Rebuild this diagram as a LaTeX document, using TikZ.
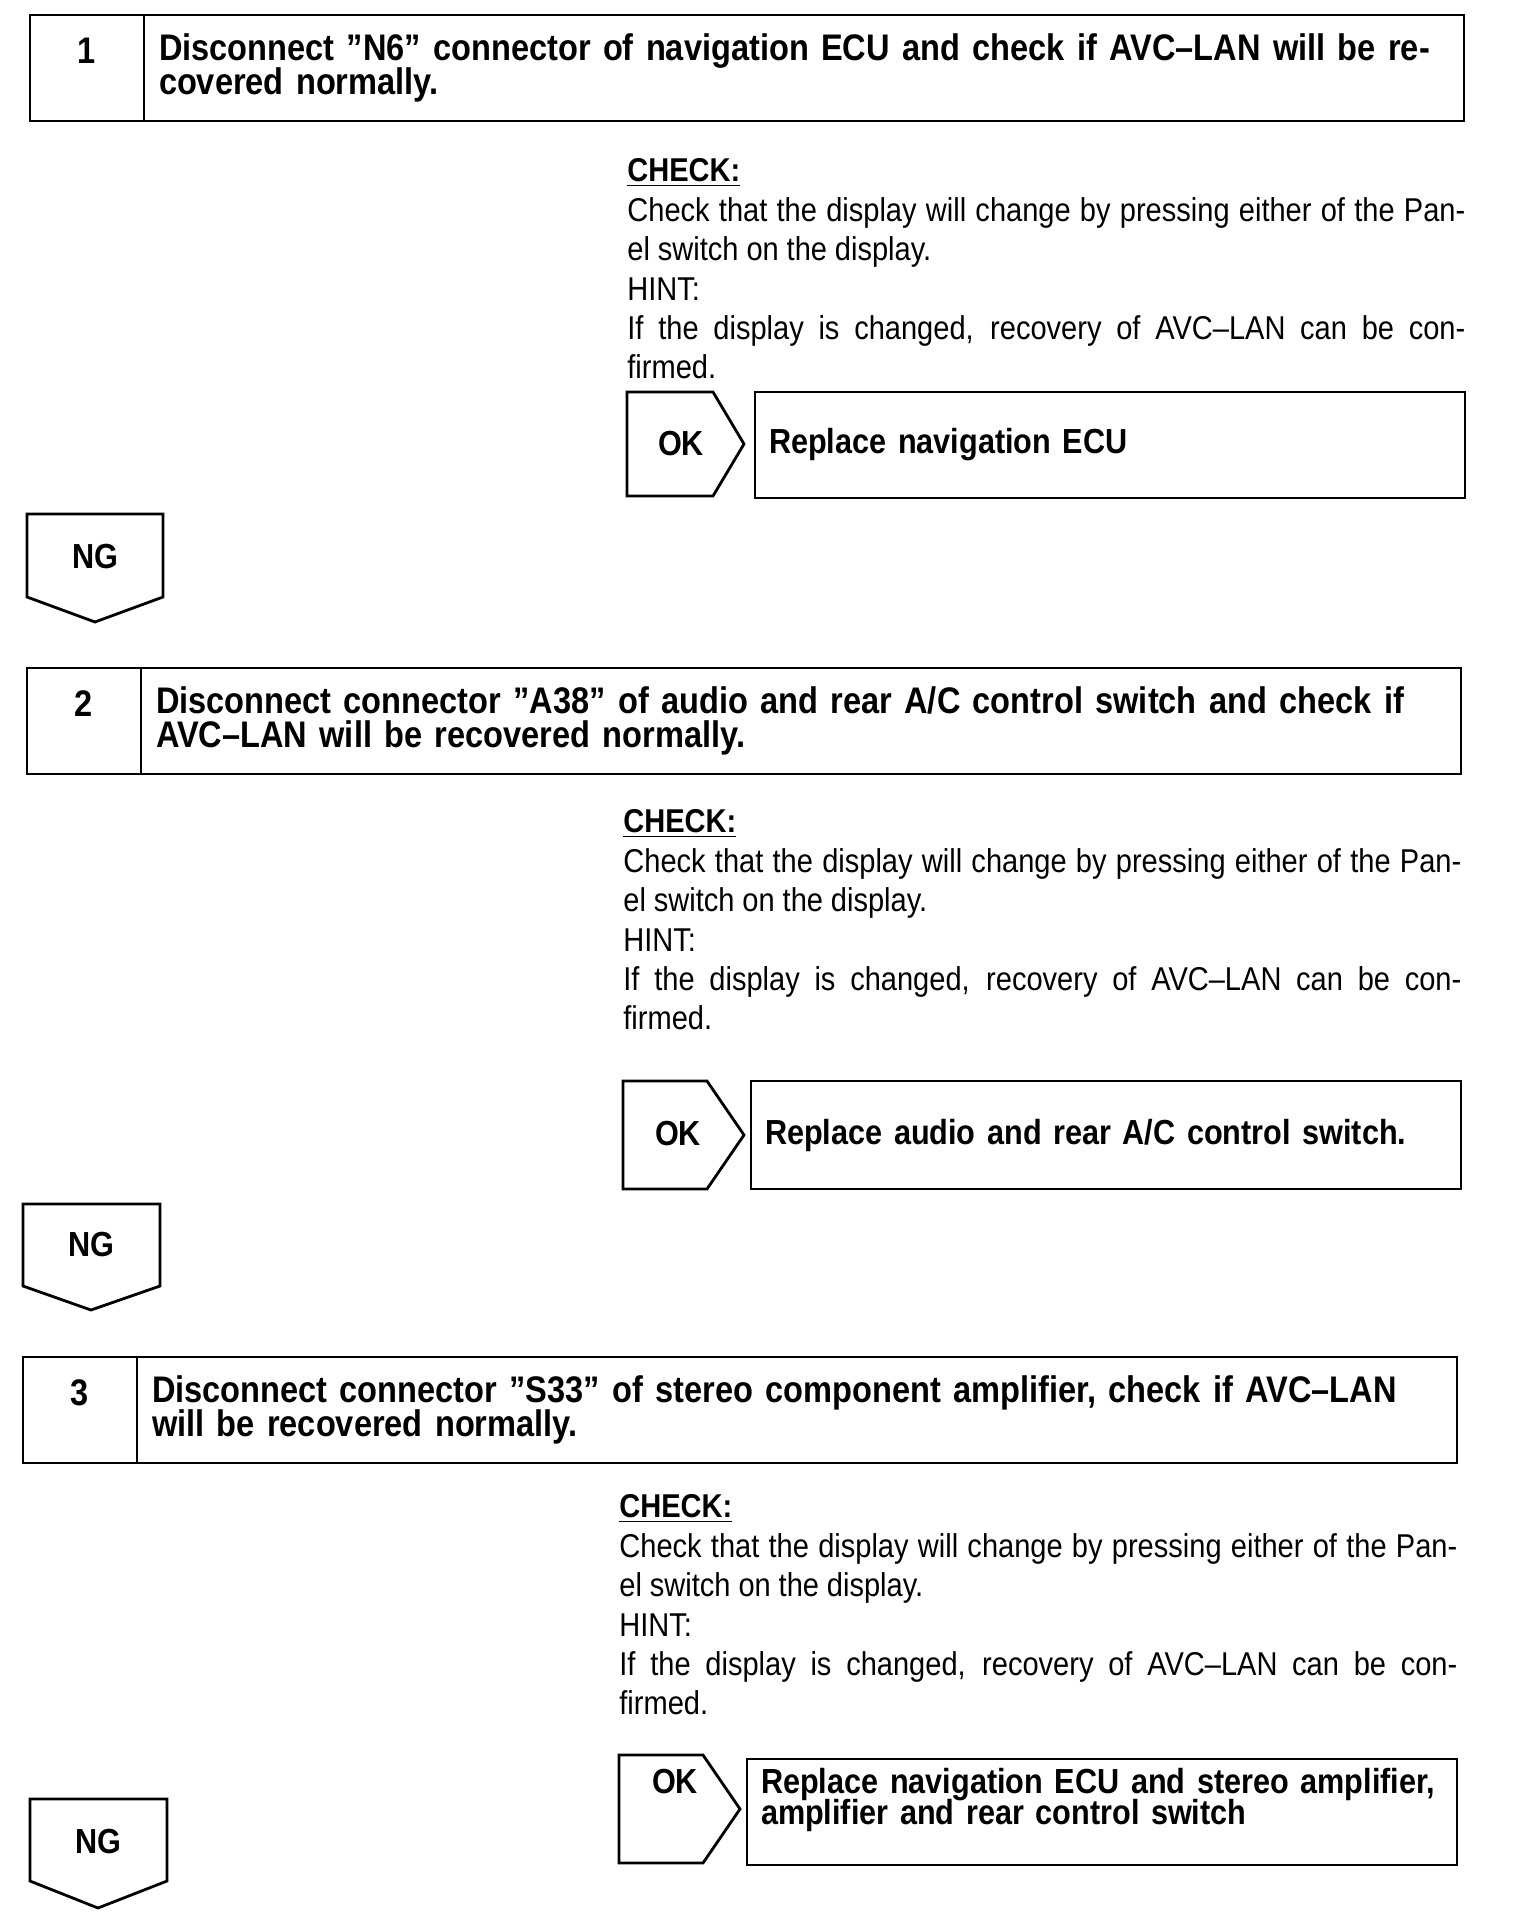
\documentclass[tikz,border=0pt]{standalone}
\usepackage{fontspec}
\setmainfont[FakeStretch=0.88]{Liberation Sans}
\usetikzlibrary{positioning}

\newcommand{\headfont}{\bfseries\fontsize{18.5pt}{17pt}\selectfont
    \lineskiplimit=-\maxdimen}
\newcommand{\repfont}{\bfseries\fontsize{17.4pt}{15.5pt}\selectfont
    \lineskiplimit=-\maxdimen}
\newcommand{\bodyfont}{\fontsize{16.5pt}{19.7pt}\selectfont
    \spaceskip=0.24em plus 0.8em minus 0.06em}

\begin{document}
\begin{tikzpicture}[
    x=0.5pt, y=-0.5pt,
    frame/.style={draw, line width=1.4pt, outer sep=0pt},
    numcell/.style={frame, anchor=north west, minimum width=57pt,
                    minimum height=53pt, inner sep=0pt, font=\headfont,
                    text height=13pt, text depth=17.5pt},
    headcell/.style={frame, minimum height=53pt, inner xsep=7.5pt,
                     text width=645pt, align=left, font=\headfont},
    checktext/.style={anchor=west, inner sep=0pt, text width=419pt,
                      align=justify, font=\bodyfont},
    repbox/.style={frame, anchor=north west, minimum width=355pt,
                   minimum height=53pt, inner xsep=7pt, text width=341pt,
                   align=left, font=\repfont},
    tag/.style={font=\repfont, inner sep=0pt}
]
    \useasboundingbox (0,0) rectangle (1520,1912);

    % step 1
    \node[numcell] (num1) at (30,15) {1};
    \node[headcell, right=0pt of num1] (head1)
        {Disconnect ”N6” connector of navigation ECU and check if AVC--LAN will be re-\\
         covered normally.};
    \node[checktext] (chk1) at (627,269)
        {\textbf{\underline{CHECK:}}\\
         Check that the display will change by pressing either of the Pan-\linebreak
         el switch on the display.\\
         HINT:\\
         If the display is changed, recovery of AVC--LAN can be con-\linebreak
         firmed.};
    \draw[frame] (627,392) -- (713,392) -- (744,444) -- (713,496) -- (627,496) -- cycle;
    \node[tag] (ok1) at (681,444) {OK};
    \node[repbox] (rep1) at (755,392) {Replace navigation ECU};
    \draw[frame] (27,514) -- (163,514) -- (163,597) -- (95,622) -- (27,597) -- cycle;
    \node[tag] (ng1) at (95,557) {NG};

    % step 2
    \node[numcell] (num2) at (27,668) {2};
    \node[headcell, right=0pt of num2] (head2)
        {Disconnect connector ”A38” of audio and rear A/C control switch and check if\\
         AVC--LAN will be recovered normally.};
    \node[checktext] (chk2) at (623,920)
        {\textbf{\underline{CHECK:}}\\
         Check that the display will change by pressing either of the Pan-\linebreak
         el switch on the display.\\
         HINT:\\
         If the display is changed, recovery of AVC--LAN can be con-\linebreak
         firmed.};
    \draw[frame] (623,1081) -- (707,1081) -- (744,1135) -- (707,1189) -- (623,1189) -- cycle;
    \node[tag] (ok2) at (678,1134) {OK};
    \node[repbox, minimum height=54pt] (rep2) at (751,1081)
        {Replace audio and rear A/C control switch.};
    \draw[frame] (23,1204) -- (160,1204) -- (160,1286) -- (91,1310) -- (23,1286) -- cycle;
    \node[tag] (ng2) at (91,1245) {NG};

    % step 3
    \node[numcell] (num3) at (23,1357) {3};
    \node[headcell, right=0pt of num3] (head3)
        {Disconnect connector ”S33” of stereo component amplifier, check if AVC--LAN\\
         will be recovered normally.};
    \node[checktext] (chk3) at (619,1605)
        {\textbf{\underline{CHECK:}}\\
         Check that the display will change by pressing either of the Pan-\linebreak
         el switch on the display.\\
         HINT:\\
         If the display is changed, recovery of AVC--LAN can be con-\linebreak
         firmed.};
    \draw[frame] (619,1755) -- (703,1755) -- (740,1809) -- (703,1863) -- (619,1863) -- cycle;
    \node[tag] (ok3) at (675,1781) {OK};
    \node[repbox] (rep3) at (747,1759)
        {\parbox[t][44pt][t]{341pt}{\repfont
         Replace navigation ECU and stereo amplifier,\linebreak
         amplifier and rear control switch}};
    \draw[frame] (30,1799) -- (167,1799) -- (167,1881) -- (98,1908) -- (30,1881) -- cycle;
    \node[tag] (ng3) at (98,1841) {NG};
\end{tikzpicture}
\end{document}
